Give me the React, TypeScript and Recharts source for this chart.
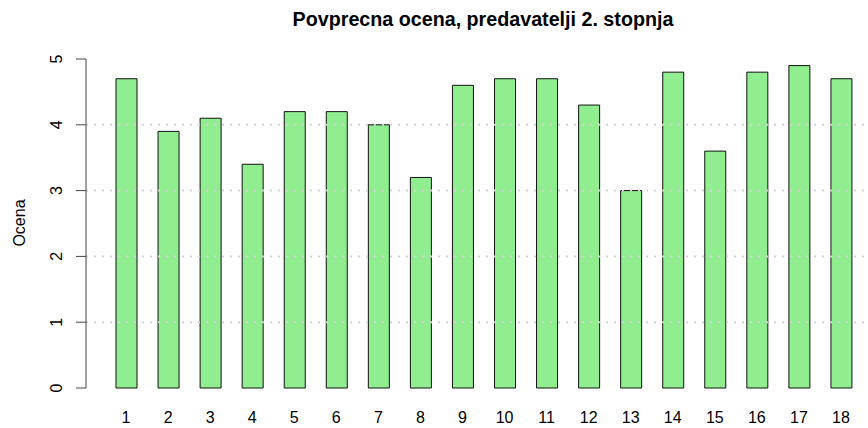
import React from 'react';
import { BarChart, Bar, XAxis, YAxis, ReferenceLine } from 'recharts';

const categories = ['1', '2', '3', '4', '5', '6', '7', '8', '9', '10', '11', '12', '13', '14', '15', '16', '17', '18'];
const ratings = [4.7, 3.9, 4.1, 3.4, 4.2, 4.2, 4.0, 3.2, 4.6, 4.7, 4.7, 4.3, 3.0, 4.8, 3.6, 4.8, 4.9, 4.7];
const yTicks = [0, 1, 2, 3, 4, 5];
const gridValues = [1, 2, 3, 4];
const title = 'Povprecna ocena, predavatelji 2. stopnja';
const yLabel = 'Ocena';

const data = categories.map((name, i) => ({ name, value: ratings[i] }));

const FONT = '"Liberation Sans", Arial, sans-serif';

const YTick = (props: any) => {
  const { y, payload } = props;
  const bx = 62;
  return (
    <text
      x={bx}
      y={y}
      transform={`rotate(-90, ${bx}, ${y})`}
      textAnchor="middle"
      fontSize={16}
      fill="#000"
      fontFamily={FONT}
    >
      {payload.value}
    </text>
  );
};

export default function App() {
  return (
    <div style={{ position: 'absolute', left: 0, top: 0, width: 868, height: 428, background: '#fff' }}>
      <BarChart
        width={868}
        height={428}
        data={data}
        margin={{ top: 59, right: 0, bottom: 0, left: 0 }}
        style={{ fontFamily: FONT }}
      >
        <XAxis
          dataKey="name"
          interval={0}
          axisLine={false}
          tickLine={false}
          tickSize={0}
          tickMargin={24}
          height={40}
          padding={{ left: 19, right: 6 }}
          tick={{ fill: '#000', fontSize: 16, fontFamily: FONT }}
        />
        <YAxis
          width={86}
          domain={[0, 5]}
          ticks={yTicks}
          interval={0}
          tickSize={10}
          axisLine={{ stroke: '#444', strokeWidth: 1 }}
          tickLine={{ stroke: '#444', strokeWidth: 1 }}
          tick={<YTick />}
        />
        <Bar dataKey="value" fill="#90EE90" stroke="#111" strokeWidth={1} barSize={21} isAnimationActive={false} />
        {gridValues.map((v) => (
          <ReferenceLine key={v} y={v} stroke="#d3d3d3" strokeWidth={2} strokeDasharray="2 6" />
        ))}
      </BarChart>
      <svg
        width={868}
        height={428}
        style={{ position: 'absolute', left: 0, top: 0, pointerEvents: 'none' }}
      >
        <text x={483} y={26} textAnchor="middle" fontSize={19.7} fontWeight="bold" fill="#000" fontFamily={FONT}>
          {title}
        </text>
        <text
          x={25}
          y={223}
          transform="rotate(-90, 25, 223)"
          textAnchor="middle"
          fontSize={16}
          fill="#000"
          fontFamily={FONT}
        >
          {yLabel}
        </text>
      </svg>
    </div>
  );
}
